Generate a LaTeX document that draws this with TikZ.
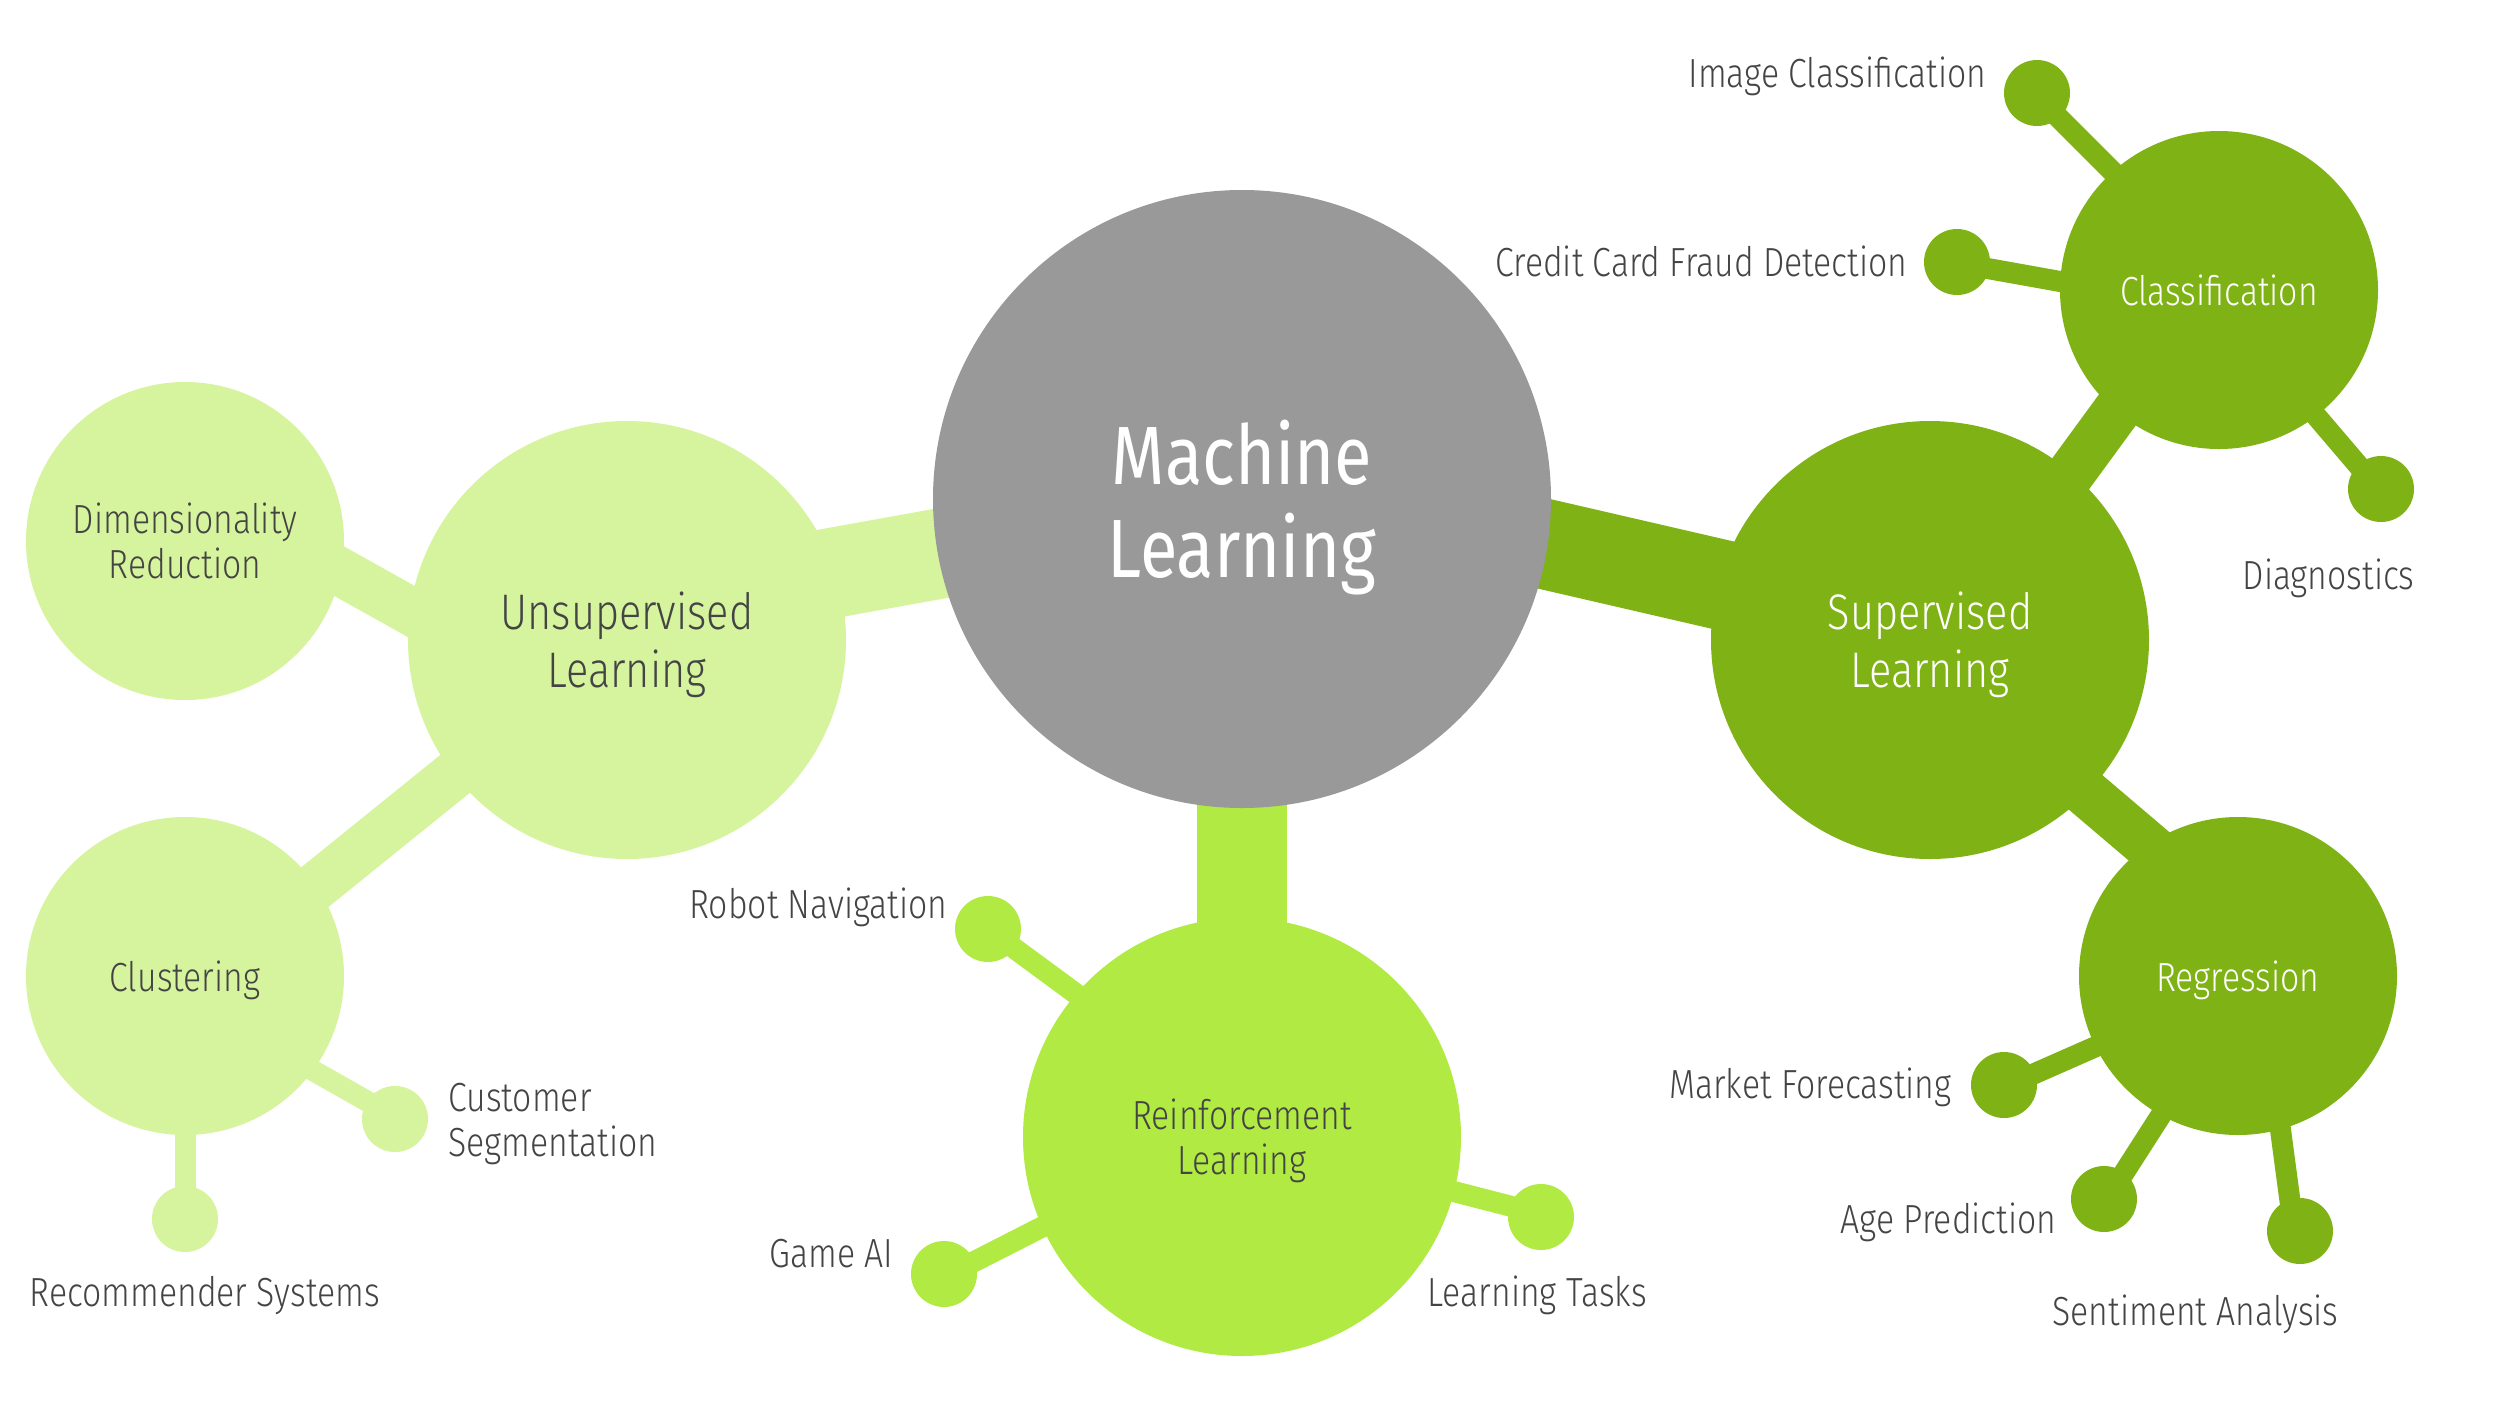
\documentclass[tikz,border=0pt]{standalone}
\usepackage{fontspec}
\setmainfont{Fira Sans Light}[FakeStretch=0.83]
\newfontfamily\mlfont{Fira Sans}[FakeStretch=0.83]
\usetikzlibrary{backgrounds}
\definecolor{mlgrey}{HTML}{999999}
\definecolor{darkg}{HTML}{7FB215}
\definecolor{limeg}{HTML}{B0EA43}
\definecolor{paleg}{HTML}{D6F49D}
\definecolor{txt}{HTML}{444444}
\begin{document}
\begin{tikzpicture}[x=0.3pt,y=-0.3pt,
  bub/.style={circle, inner sep=0pt, align=center, text depth=0pt, minimum size=#1*0.6pt},
  small/.style={font=\fontsize{12.2}{13.5}\selectfont},
  big/.style={font=\fontsize{15}{17.4}\selectfont},
  lf/.style={small, text=txt, inner sep=0pt},
  mainc/.style={line width=90*0.3pt},
  secc/.style={line width=48*0.3pt},
  leafc/.style={line width=21*0.3pt}]
\useasboundingbox (0,0) rectangle (2500,1406);
% main bubbles
\node[bub=309, fill=mlgrey, text=white, font=\mlfont\fontsize{24.8}{27.9}\selectfont] (ml) at (1242,499) {Machine\\Learning};
\node[bub=219, fill=paleg, text=txt, big] (unsup) at (627,640) {Unsupervised\\Learning};
\node[bub=219, fill=darkg, text=white, big] (sup) at (1930,640) {Supervised\\Learning};
\node[bub=219, fill=limeg, text=txt, small] (rl) at (1242,1137) {Reinforcement\\Learning};
% secondary bubbles
\node[bub=159, fill=paleg, text=txt, small] (dim) at (185,541) {Dimensionality\\Reduction};
\node[bub=159, fill=paleg, text=txt, small] (clust) at (185,976) {Clustering};
\node[bub=159, fill=darkg, text=white, small] (class) at (2219,290) {Classification};
\node[bub=159, fill=darkg, text=white, small] (reg) at (2238,976) {Regression};
% dots
\node[bub=33, fill=darkg] (img) at (2037,93) {};
\node[bub=33, fill=darkg] (credit) at (1957,262) {};
\node[bub=33, fill=darkg] (diag) at (2381,489) {};
\node[bub=33, fill=darkg] (market) at (2004,1085) {};
\node[bub=33, fill=darkg] (age) at (2104,1199) {};
\node[bub=33, fill=darkg] (senti) at (2300,1231) {};
\node[bub=33, fill=limeg] (robot) at (988,929) {};
\node[bub=33, fill=limeg] (game) at (944,1274) {};
\node[bub=33, fill=limeg] (tasks) at (1541,1217) {};
\node[bub=33, fill=paleg] (cust) at (395,1119) {};
\node[bub=33, fill=paleg] (rec) at (185,1219) {};
% labels
\node[lf, anchor=base east] (limg) at (1987,87) {Image Classification};
\node[lf, anchor=base east] (lcredit) at (1908,276) {Credit Card Fraud Detection};
\node[lf, anchor=base west] (ldiag) at (2242,589) {Diagnostics};
\node[lf, anchor=base east] (lrobot) at (948,918) {Robot Navigation};
\node[lf, anchor=west, align=left] (lcust) at (448,1124) {Customer\\Segmentation};
\node[lf, anchor=base west] (lrec) at (29,1306) {Recommender Systems};
\node[lf, anchor=base east] (lgame) at (894,1267) {Game AI};
\node[lf, anchor=base west] (ltasks) at (1427,1306) {Learning Tasks};
\node[lf, anchor=base east] (lmarket) at (1952,1098) {Market Forecasting};
\node[lf, anchor=base east] (lage) at (2057,1233) {Age Prediction};
\node[lf, anchor=base west] (lsenti) at (2052,1325) {Sentiment Analysis};
% connectors
\begin{scope}[on background layer]
\fill[white] (0,0) rectangle (2500,1406);
\draw[mainc, paleg] (ml.center) -- ([shift={(0,-30)}]unsup.center);
\draw[mainc, darkg] ([shift={(0,-25)}]ml.center) -- ([shift={(0,-7)}]sup.center);
\draw[mainc, limeg] (ml.center) -- (rl.center);
\draw[secc, paleg] ([shift={(0,92)}]unsup.center) -- ([shift={(0,-56)}]dim.center);
\draw[secc, paleg] ([shift={(0,-5)}]unsup.center) -- ([shift={(0,16)}]clust.center);
\draw[secc, darkg] ([shift={(0,26)}]sup.center) -- ([shift={(0,-19)}]class.center);
\draw[secc, darkg] ([shift={(0,20)}]sup.center) -- ([shift={(0,-54)}]reg.center);
\draw[leafc, darkg] ([shift={(0,-12)}]class.center) -- ([shift={(0,3)}]img.center);
\draw[leafc, darkg] ([shift={(0,20)}]class.center) -- ([shift={(0,1)}]credit.center);
\draw[leafc, darkg] ([shift={(0,12)}]class.center) -- ([shift={(0,3)}]diag.center);
\draw[leafc, darkg] ([shift={(0,8)}]reg.center) -- ([shift={(0,2)}]market.center);
\draw[leafc, darkg] ([shift={(0,19)}]reg.center) -- ([shift={(0,5)}]age.center);
\draw[leafc, darkg] ([shift={(22,0)}]reg.center) -- ([shift={(-6,0)}]senti.center);
\draw[leafc, limeg] ([shift={(0,-21)}]rl.center) -- (robot.center);
\draw[leafc, limeg] ([shift={(0,-12)}]rl.center) -- ([shift={(0,3)}]game.center);
\draw[leafc, limeg] (rl.center) -- ([shift={(0,-3)}]tasks.center);
\draw[leafc, paleg] ([shift={(0,22)}]clust.center) -- ([shift={(0,-2)}]cust.center);
\draw[leafc, paleg] (clust.center) -- (rec.center);
\end{scope}
\end{tikzpicture}
\end{document}
